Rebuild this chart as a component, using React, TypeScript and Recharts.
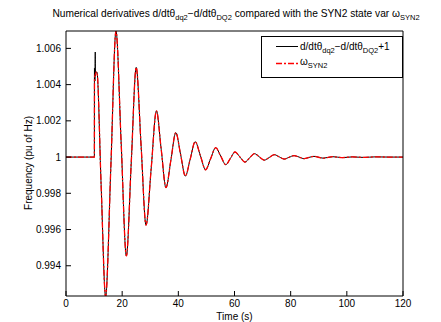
import * as React from "react";
import { Label, Line, LineChart, XAxis, YAxis } from "recharts";

// values
const omegaHeadTime = [0, 10.1, 10.15];
const omegaHeadValue = [1, 1, 1.0044];
const derivHeadTime = [0, 10.1, 10.13, 10.3, 10.42, 10.48, 10.6];
const derivHeadValue = [1, 1, 1.0049, 1.0042, 1.0058, 1.0045, 1.0046];

// both signals overlap after the first second of the disturbance
const tailTime = [
  11.0, 12.5, 14.1, 16.0, 17.8, 19.65, 21.5, 23.25, 25.0, 26.75, 28.5, 30.35, 32.2, 33.9,
  35.6, 37.35, 39.1, 40.8, 42.5, 44.25, 46.0, 47.85, 49.7, 51.5, 53.3, 55.1, 56.9, 58.55,
  60.2, 61.95, 63.7, 65.4, 67.1, 68.85, 70.6, 72.4, 74.2, 75.95, 77.7, 79.45, 81.2, 83.0,
  84.8, 86.55, 88.3, 89.95, 91.6, 95.0, 98.5, 102.0, 106.0, 110.0, 115.0, 120.0,
];
const tailValue = [
  1.0047, 0.9985, 0.9923, 0.9996, 1.00696, 1.00075, 0.99454, 0.99975, 1.00495, 1.0006,
  0.99624, 0.9994, 1.00255, 1.00043, 0.99831, 0.99983, 1.00135, 1.00015, 0.99895, 0.9999,
  1.00085, 1.00008, 0.9993, 0.99991, 1.00052, 1.00005, 0.99958, 0.99993, 1.00028, 1.0,
  0.99972, 0.99996, 1.00019, 1.00001, 0.99983, 0.99998, 1.00013, 1.00001, 0.99989,
  0.99999, 1.00008, 1.0, 0.99991, 0.99998, 1.00004, 0.99999, 0.99994, 1.00002, 0.99997,
  1.00001, 0.99998, 1.00001, 1.0, 1.0,
];

const xTicks = [0, 20, 40, 60, 80, 100, 120];
const yTicks = [0.994, 0.996, 0.998, 1, 1.002, 1.004, 1.006];
const yDomain = [0.99233, 1.00696];

const FONT = "'Liberation Sans', Arial, Helvetica, sans-serif";
const DASH_DOT = "6 2 2 2";

interface Pt {
  t: number;
  v: number;
}

function buildSeries(headT: number[], headV: number[]): Pt[] {
  const t = headT.concat(tailTime);
  const v = headV.concat(tailValue);
  return t.map((x, i) => ({ t: x, v: v[i] }));
}

const derivData = buildSeries(derivHeadTime, derivHeadValue);
const omegaData = buildSeries(omegaHeadTime, omegaHeadValue);

// legend box, drawn in the chart svg (top-right inside the axes)
function LegendBox(): React.JSX.Element {
  const x0 = 261;
  const y0 = 36;
  return (
    <g>
      <rect x={x0 + 0.5} y={y0 + 0.5} width={141} height={41} fill="#fff" stroke="#000" strokeWidth={1} />
      <line x1={x0 + 15} x2={x0 + 37} y1={y0 + 10.5} y2={y0 + 10.5} stroke="#000" strokeWidth={1} />
      <line
        x1={x0 + 15}
        x2={x0 + 37}
        y1={y0 + 27.5}
        y2={y0 + 27.5}
        stroke="#ff0000"
        strokeWidth={1.3}
        strokeDasharray={DASH_DOT}
      />
      <text x={x0 + 39} y={y0 + 14} fontSize={10} fontFamily={FONT} fill="#000">
        d/dtθ
        <tspan fontSize={7.5} dy={3}>dq2</tspan>
        <tspan dy={-3}>−d/dtθ</tspan>
        <tspan fontSize={7.5} dy={3}>DQ2</tspan>
        <tspan dy={-3}>+1</tspan>
      </text>
      <text x={x0 + 39} y={y0 + 29} fontSize={10} fontFamily={FONT} fill="#000">
        ω<tspan fontSize={7.5} dy={3}>SYN2</tspan>
      </text>
    </g>
  );
}

function Title(): React.JSX.Element {
  return (
    <text x={236} y={17} textAnchor="middle" fontSize={10.2} fontFamily={FONT} fill="#000">
      Numerical derivatives d/dtθ
      <tspan fontSize={7.5} dy={3}>dq2</tspan>
      <tspan dy={-3}>−d/dtθ</tspan>
      <tspan fontSize={7.5} dy={3}>DQ2</tspan>
      <tspan dy={-3}> compared with the SYN2 state var ω</tspan>
      <tspan fontSize={7.5} dy={3}>SYN2</tspan>
    </text>
  );
}

function YTitle(): React.JSX.Element {
  return (
    <text
      x={28}
      y={163}
      transform="rotate(-90 28 163)"
      textAnchor="middle"
      dominantBaseline="central"
      fontSize={10}
      fontFamily={FONT}
      fill="#000"
    >
      Frequency (pu of Hz)
    </text>
  );
}

const tickStyle = { fill: "#000", fontSize: 10, fontFamily: FONT };

export default function App(): React.JSX.Element {
  return (
    <div style={{ width: 441, height: 322, background: "#fff" }}>
      <style>{"body{margin:0}"}</style>
      <LineChart width={441} height={322} margin={{ top: 30, right: 37, bottom: 0, left: 0 }}>
        <XAxis
          xAxisId="b"
          type="number"
          dataKey="t"
          domain={[0, 120]}
          ticks={xTicks}
          allowDataOverflow
          height={26}
          stroke="#000"
          tickSize={-5}
          tickMargin={9}
          tick={tickStyle}
        >
          <Label value="Time (s)" position="insideBottom" offset={2} fill="#000" fontSize={10} fontFamily={FONT} />
        </XAxis>
        <XAxis
          xAxisId="top"
          orientation="top"
          type="number"
          dataKey="t"
          domain={[0, 120]}
          ticks={xTicks}
          allowDataOverflow
          height={1}
          stroke="#000"
          tickSize={-5}
          tick={false}
        >
          <Label content={() => <Title />} />
        </XAxis>
        <YAxis
          yAxisId="l"
          type="number"
          domain={yDomain}
          ticks={yTicks}
          allowDataOverflow
          width={66}
          stroke="#000"
          tickSize={-5}
          tickMargin={10}
          tick={tickStyle}
          tickFormatter={(v: number) => String(Number(v.toFixed(3)))}
        >
          <Label content={() => <YTitle />} />
        </YAxis>
        <YAxis
          yAxisId="r"
          orientation="right"
          type="number"
          domain={yDomain}
          ticks={yTicks}
          allowDataOverflow
          width={1}
          stroke="#000"
          tickSize={-5}
          tick={false}
        >
          <Label content={() => <LegendBox />} />
        </YAxis>
        <Line
          xAxisId="b"
          yAxisId="l"
          data={derivData}
          dataKey="v"
          type="monotone"
          stroke="#000"
          strokeWidth={1}
          dot={false}
          isAnimationActive={false}
        />
        <Line
          xAxisId="b"
          yAxisId="l"
          data={omegaData}
          dataKey="v"
          type="monotone"
          stroke="#ff0000"
          strokeWidth={1.3}
          strokeDasharray={DASH_DOT}
          dot={false}
          isAnimationActive={false}
        />
      </LineChart>
    </div>
  );
}
